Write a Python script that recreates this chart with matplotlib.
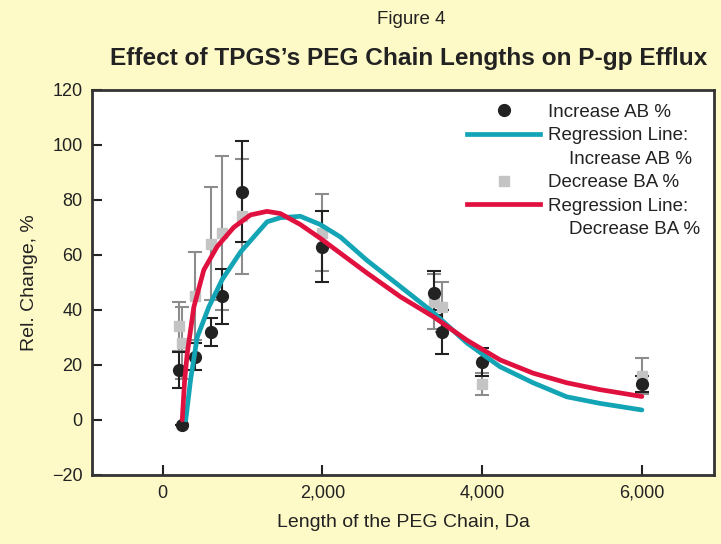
import matplotlib
matplotlib.use("Agg")
import matplotlib.pyplot as plt
from matplotlib.lines import Line2D

peg_ab = [200, 238, 400, 600, 750, 1000, 2000, 3400, 3500, 4000, 6000]
inc_ab = [18, -2, 23, 32, 45, 83, 63, 46, 32, 21, 13]
err_ab = [6.5, 0, 5, 5, 10, 18.5, 13, 8, 8, 5, 3]

peg_ba = [200, 238, 400, 600, 750, 1000, 2000, 3400, 3500, 4000, 6000]
dec_ba = [34, 28, 45, 64, 68, 74, 68, 43, 41, 13, 16]
err_ba = [9, 13, 16, 20.5, 28, 21, 14, 10, 9, 4, 6.5]

# regression lines, sampled from the figure
reg_ab_x = [290, 350, 433, 578, 746, 975, 1308, 1475, 1725, 1975, 2225, 2558,
            2975, 3390, 3808, 4225, 4637, 5058, 5475, 6000]
reg_ab_y = [0, 14.5, 30, 41, 51, 61, 72, 73.5, 74, 71, 66.5, 58,
            48.5, 39, 28, 19.3, 13.5, 8.4, 6, 3.6]

reg_ba_x = [246, 275, 308, 391, 516, 683, 891, 1100, 1308, 1475, 1725, 1975,
            2225, 2558, 2975, 3390, 3808, 4225, 4637, 5058, 5475, 6000]
reg_ba_y = [0, 14, 24, 41, 54.5, 63, 70, 74.5, 75.8, 75, 71, 66,
            60.6, 53.4, 44.8, 37.5, 29, 21.8, 17, 13.5, 11, 8.5]

xticks = [0, 2000, 4000, 6000]
xtick_labels = ["0", "2,000", "4,000", "6,000"]
yticks = [-20, 0, 20, 40, 60, 80, 100, 120]

TEXT = "#222222"
plt.rcParams["font.family"] = ["Liberation Sans", "DejaVu Sans"]

fig = plt.figure(figsize=(7.21, 5.44), dpi=100, facecolor="#fefac8")
ax = fig.add_axes([0.128, 0.127, 0.862, 0.708])
ax.set_facecolor("white")

ax.errorbar(peg_ba, dec_ba, yerr=err_ba, fmt="none", ecolor="#8c8c8c",
            elinewidth=1.5, capsize=5, capthick=1.5, zorder=2)
ax.errorbar(peg_ab, inc_ab, yerr=err_ab, fmt="none", ecolor=TEXT,
            elinewidth=1.5, capsize=5, capthick=1.5, zorder=2)
ax.plot(peg_ba, dec_ba, "s", color="#c4c4c4", markersize=7, zorder=3)
ax.plot(peg_ab, inc_ab, "o", color=TEXT, markersize=8.5, zorder=3)

ax.plot(reg_ab_x, reg_ab_y, color="#13a5b5", lw=3.4, solid_capstyle="round",
        solid_joinstyle="round", zorder=4)
ax.plot(reg_ba_x, reg_ba_y, color="#e0113f", lw=3.4, solid_capstyle="round",
        solid_joinstyle="round", zorder=5)

ax.set_xlim(-880, 6900)
ax.set_ylim(-20, 120)
ax.set_xticks(xticks)
ax.set_xticklabels(xtick_labels)
ax.set_yticks(yticks)
ax.tick_params(direction="in", length=7, width=1.5, labelsize=13,
               colors=TEXT, pad=7)
for s in ax.spines.values():
    s.set_linewidth(2)
    s.set_color("#333333")

ax.set_xlabel("Length of the PEG Chain, Da", fontsize=14, color=TEXT,
              labelpad=9)
ax.set_ylabel("Rel. Change, %", fontsize=14, color=TEXT, labelpad=10)

blank = Line2D([], [], linestyle="none")
handles = [
    Line2D([], [], marker="o", color=TEXT, linestyle="none", markersize=8.5),
    Line2D([], [], color="#13a5b5", lw=3.4),
    blank,
    Line2D([], [], marker="s", color="#c4c4c4", linestyle="none", markersize=7),
    Line2D([], [], color="#e0113f", lw=3.4),
    blank,
]
labels = ["Increase AB %", "Regression Line:", "    Increase AB %",
          "Decrease BA %", "Regression Line:", "    Decrease BA %"]
ax.legend(handles, labels, loc="upper right", frameon=False, fontsize=13.5,
          handlelength=3.9, handletextpad=0.4, labelspacing=0.34,
          borderaxespad=0.35, labelcolor=TEXT)

fig.text(0.57, 0.965, "Figure 4", ha="center", va="center", fontsize=13.5,
         color=TEXT)
fig.text(0.567, 0.893, "Effect of TPGS\u2019s PEG Chain Lengths on P-gp Efflux",
         ha="center", va="center", fontsize=17.6, fontweight="bold",
         color=TEXT)

fig.savefig("out.png", dpi=100, facecolor=fig.get_facecolor())
